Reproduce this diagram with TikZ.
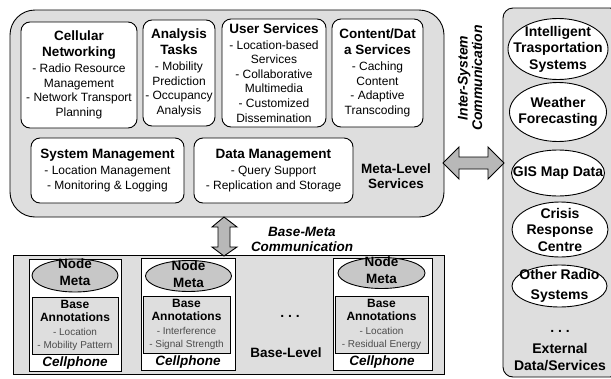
\documentclass[tikz,border=0pt]{standalone}
\usepackage{fontspec}
\setmainfont{Liberation Sans}
\usetikzlibrary{shapes.geometric}
\definecolor{panel}{gray}{0.87}
\definecolor{nodegray}{gray}{0.78}
\definecolor{arrowgray}{gray}{0.72}
\definecolor{smallgray}{gray}{0.3}
\newcommand{\boxhead}[1]{{\fontsize{13.5}{15}\selectfont\bfseries #1}}
\newcommand{\annhead}[1]{{\fontsize{12}{13}\selectfont\bfseries #1}}
\newcommand{\anntext}[1]{{\color{smallgray}#1}}
\begin{document}
\begin{tikzpicture}[x=1pt, y=-1pt, line width=0.9pt,
  panelbox/.style={draw, fill=panel, inner sep=0pt},
  inbox/.style={draw, fill=white, rounded corners=9pt, align=center, inner sep=0pt, font=\fontsize{12}{14.6}\selectfont},
  extell/.style={ellipse, draw, fill=white, inner sep=0pt},
  exttext/.style={align=center, inner sep=0pt, font=\fontsize{14}{16.5}\selectfont\bfseries},
  phonebox/.style={draw, fill=white, inner sep=0pt},
  metaell/.style={ellipse, draw, fill=nodegray, inner sep=0pt},
  annbox/.style={draw, fill=panel, inner sep=0pt, align=center, font=\fontsize{10}{13.2}\selectfont},
  bigtext/.style={align=center, inner sep=0pt, font=\fontsize{13.5}{15}\selectfont\bfseries},
  italtext/.style={align=center, inner sep=0pt, font=\fontsize{13.5}{15}\selectfont\bfseries\itshape},
  blockarrow/.style={draw, fill=arrowgray, line join=miter}]
\useasboundingbox (0,0) rectangle (611,378);

% ---------- meta level ----------
\node[panelbox, rounded corners=25pt, minimum width=434pt, minimum height=207pt] (meta) at (227,113.5) {};
\node[inbox, minimum width=116pt, minimum height=106pt] (cell) at (79,75)
  {\boxhead{Cellular}\\[1.4pt]\boxhead{Networking}\\[1pt]- Radio Resource\\Management\\- Network Transport\\Planning};
\node[inbox, minimum width=72pt, minimum height=106pt] (anal) at (179,73)
  {\boxhead{Analysis}\\[1.4pt]\boxhead{Tasks}\\[1pt]- Mobility\\Prediction\\- Occupancy\\Analysis};
\node[inbox, minimum width=104pt, minimum height=108pt] (user) at (274,73)
  {\boxhead{User Services}\\[1pt]- Location-based\\Services\\- Collaborative\\Multimedia\\- Customized\\Dissemination};
\node[inbox, minimum width=91pt, minimum height=108pt] (cont) at (377.5,73)
  {\boxhead{Content/Dat}\\[1.4pt]\boxhead{a Services}\\[1pt]- Caching\\Content\\- Adaptive\\Transcoding};
\node[inbox, minimum width=153pt, minimum height=65pt] (sysm) at (107.5,170.5)
  {\boxhead{System Management}\\[1pt]- Location Management\\- Monitoring \& Logging};
\node[inbox, minimum width=159pt, minimum height=65pt] (datm) at (273.5,170.5)
  {\boxhead{Data Management}\\[1pt]- Query Support\\- Replication and Storage};
\node[bigtext] (metalbl) at (396,176) {Meta-Level\\Services};

% ---------- external ----------
\node[panelbox, rounded corners=10pt, minimum width=117pt, minimum height=369pt] (ext) at (561.5,192.5) {};
\node[extell, minimum width=100pt, minimum height=61pt] (its) at (558,49) {};
\node[exttext] (itst) at (its.center) {Intelligent\\Trasportation\\Systems};
\node[extell, minimum width=97pt, minimum height=59pt] (wea) at (558,112) {};
\node[exttext] (weat) at (wea.center) {Weather\\Forecasting};
\node[extell, minimum width=93pt, minimum height=46pt] (gis) at (558,173) {};
\node[exttext] (gist) at (gis.center) {GIS Map Data};
\node[extell, minimum width=96pt, minimum height=55pt] (cri) at (560,229.5) {};
\node[exttext] (crit) at (cri.center) {Crisis\\Response\\Centre};
\node[extell, minimum width=95pt, minimum height=42pt] (oth) at (559.5,286) {};
\node[exttext] (otht) at (oth.center) {Other Radio\\[3pt]Systems};
\node[exttext] (extdots) at (560,331) {.\ .\ .};
\node[exttext] (extlbl) at (560,357) {External\\Data/Services};

% ---------- base level ----------
\node[panelbox, minimum width=431pt, minimum height=119pt] (base) at (228.5,314.5) {};
\node[phonebox, minimum width=92pt, minimum height=112pt] (ph1) at (75,315) {};
\node[phonebox, minimum width=94pt, minimum height=112pt] (ph2) at (188,314) {};
\node[phonebox, minimum width=99pt, minimum height=112pt] (ph3) at (382.5,314) {};

\node[metaell, minimum width=86pt, minimum height=33pt] (nm1) at (75,275.5) {};
\node[bigtext, font=\fontsize{13.5}{17}\selectfont\bfseries] (nm1t) at ([yshift=3.5pt]nm1.center) {Node\\Meta};
\node[metaell, minimum width=86pt, minimum height=31pt] (nm2) at (188.5,276) {};
\node[bigtext, font=\fontsize{13.5}{17}\selectfont\bfseries] (nm2t) at ([yshift=2pt]nm2.center) {Node\\Meta};
\node[metaell, minimum width=87pt, minimum height=31pt] (nm3) at (381.5,273) {};
\node[bigtext, font=\fontsize{13.5}{17}\selectfont\bfseries] (nm3t) at ([yshift=3pt]nm3.center) {Node\\Meta};

\node[annbox, minimum width=86pt, minimum height=57pt] (an1) at (75,325.5)
  {\annhead{Base}\\\annhead{Annotations}\\[1pt]\anntext{- Location}\\\anntext{- Mobility Pattern}};
\node[annbox, minimum width=87pt, minimum height=57pt] (an2) at (186.5,324.5)
  {\annhead{Base}\\\annhead{Annotations}\\[1pt]\anntext{- Interference}\\\anntext{- Signal Strength}};
\node[annbox, minimum width=93pt, minimum height=57pt] (an3) at (381.5,324.5)
  {\annhead{Base}\\\annhead{Annotations}\\[1pt]\anntext{- Location}\\\anntext{- Residual Energy}};

\node[italtext] (cp1) at (75,363) {Cellphone};
\node[italtext] (cp2) at (188,362) {Cellphone};
\node[italtext] (cp3) at (382,362) {Cellphone};
\node[exttext] (basedots) at (290,316) {.\ .\ .};
\node[bigtext] (baselbl) at (286,353) {Base-Level};

% ---------- communication ----------
\draw[blockarrow] (443,163) -- (459,147) -- (459,157) -- (488,157) -- (488,147) -- (504,163)
  -- (488,179) -- (488,169) -- (459,169) -- (459,179) -- cycle;
\node[italtext, rotate=90, font=\fontsize{14}{14.5}\selectfont\bfseries\itshape] (intercomm) at (470,78) {Inter-System\\Communication};
\draw[blockarrow] (224,217) -- (237,227) -- (230,227) -- (230,247) -- (237,247) -- (224,256)
  -- (212,247) -- (218,247) -- (218,227) -- (212,227) -- cycle;
\node[italtext] (bmcomm) at (302,239.5) {Base-Meta\\Communication};
\end{tikzpicture}
\end{document}
